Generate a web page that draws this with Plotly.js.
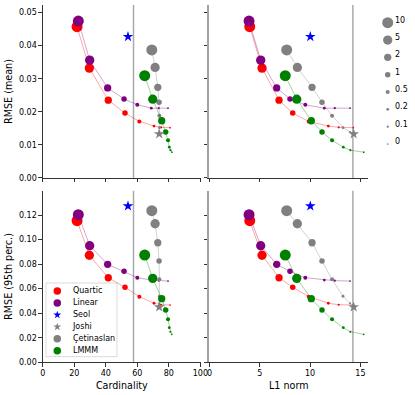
<!DOCTYPE html>
<html>
<head>
<meta charset="utf-8">
<script src="https://cdn.plot.ly/plotly-3.0.1.min.js"></script>
<style>
body { margin: 0; background: #fff; }
#chart { width: 415px; height: 395px; }
</style>
</head>
<body>
<div id="chart"></div>
<script>
// regularisation strengths, one per point on every path (largest first)
var lambdas = [10, 5, 2, 1, 0.5, 0.2, 0.1, 0];

var quarticCard = [21.8, 29.6, 41.6, 52.2, 61.3, 70.6, 75.1, 80.8];
var quarticL1   = [4.0, 5.22, 6.91, 8.27, 9.86, 11.81, 12.84, 14.29];
var quarticMean = [0.0457, 0.0332, 0.0235, 0.0196, 0.0171, 0.0157, 0.0153, 0.0152];
var quarticP95  = [0.1154, 0.0872, 0.0689, 0.0611, 0.0535, 0.0481, 0.0469, 0.0467];

var linearCard = [22.6, 29.8, 41.2, 51.6, 60.0, 68.9, 73.6, 79.5];
var linearL1   = [3.93, 5.09, 6.68, 8.0, 9.52, 11.41, 12.45, 13.97];
var linearMean = [0.0474, 0.0356, 0.0272, 0.0239, 0.0221, 0.0211, 0.0211, 0.0211];
var linearP95  = [0.1203, 0.0950, 0.0798, 0.0741, 0.0689, 0.0670, 0.0665, 0.0662];

var cetinCard = [69.2, 71.3, 73.0, 73.8, 74.0, 74.0, 74.0, 73.9];
var cetinL1   = [7.67, 8.73, 10.19, 11.18, 12.18, 13.27, 13.97, 14.33];
var cetinMean = [0.0387, 0.0334, 0.0274, 0.0229, 0.0188, 0.0152, 0.0139, 0.0133];
var cetinP95  = [0.1235, 0.1129, 0.0974, 0.0825, 0.0676, 0.0538, 0.0481, 0.0450];

var lmmmCard = [64.7, 69.8, 75.5, 78.0, 79.5, 80.3, 81.0, 81.9];
var lmmmL1   = [7.53, 8.67, 10.12, 11.18, 12.18, 13.3, 14.0, 15.33];
var lmmmMean = [0.0309, 0.0238, 0.0173, 0.0139, 0.0114, 0.0093, 0.0084, 0.0078];
var lmmmP95  = [0.0874, 0.0684, 0.0518, 0.0426, 0.0350, 0.0282, 0.0249, 0.0228];

var seolCard = [54.1], seolL1 = [10.02], seolMean = [0.0427], seolP95 = [0.1273];
var joshiCard = [73.9], joshiL1 = [14.33], joshiMean = [0.0133], joshiP95 = [0.0450];

// reference lines
var refCard = 57.6;
var refL1 = 14.25;

var legendNames = ["Quartic", "Linear", "Seol", "Joshi", "Çetinaslan", "LMMM"];
var sizeLabels = lambdas.map(String);

var FONT = "DejaVu Sans";

var panels = [
    {xa: "x",  ya: "y",  xKey: "card", yKey: "mean"},
    {xa: "x2", ya: "y2", xKey: "l1",   yKey: "mean"},
    {xa: "x3", ya: "y3", xKey: "card", yKey: "p95"},
    {xa: "x4", ya: "y4", xKey: "l1",   yKey: "p95"}
];

var paths = [
    {card: quarticCard, l1: quarticL1, mean: quarticMean, p95: quarticP95, color: "#ff0000", line: "rgba(255,0,0,0.45)"},
    {card: linearCard,  l1: linearL1,  mean: linearMean,  p95: linearP95,  color: "#800080", line: "rgba(128,0,128,0.45)"},
    {card: cetinCard,   l1: cetinL1,   mean: cetinMean,   p95: cetinP95,   color: "#808080", line: "rgba(128,128,128,0.45)"},
    {card: lmmmCard,    l1: lmmmL1,    mean: lmmmMean,    p95: lmmmP95,    color: "#008000", line: "rgba(0,128,0,0.45)"}
];

var stars = [
    {card: seolCard,  l1: seolL1,  mean: seolMean,  p95: seolP95,  color: "#0000ff"},
    {card: joshiCard, l1: joshiL1, mean: joshiMean, p95: joshiP95, color: "#808080"}
];

function markerSize(lambda){
    let sizes = {10: 11, 5: 9.3, 2: 7.3, 1: 5.5, 0.5: 4, 0.2: 2.8, 0.1: 2.2, 0: 1.7};
    return sizes[lambda];
}

function getLineTrace(xs, ys, xa, ya, color){
    return {
        x: xs, y: ys, xaxis: xa, yaxis: ya,
        type: "scatter", mode: "lines",
        line: {color: color, width: 0.8},
        hoverinfo: "skip", showlegend: false
    };
}

function getMarkerTrace(xs, ys, xa, ya, color, size, symbol){
    return {
        x: xs, y: ys, xaxis: xa, yaxis: ya,
        type: "scatter", mode: "markers",
        marker: {color: color, size: size, symbol: symbol, opacity: 1, line: {width: 0}},
        hoverinfo: "skip", showlegend: false
    };
}

var traces = [];
for (let p = 0; p < panels.length; p++){
    let pn = panels[p];
    for (let i = 0; i < paths.length; i++){
        let s = paths[i];
        traces.push(getLineTrace(s[pn.xKey], s[pn.yKey], pn.xa, pn.ya, s.line));
        traces.push(getMarkerTrace(s[pn.xKey], s[pn.yKey], pn.xa, pn.ya, s.color, lambdas.map(markerSize), "circle"));
    }
    for (let i = 0; i < stars.length; i++){
        let s = stars[i];
        traces.push(getMarkerTrace(s[pn.xKey], s[pn.yKey], pn.xa, pn.ya, s.color, 8, "star"));
    }
}

// method legend (bottom-left box)
var legendIdx = legendNames.map((n, i) => i);
traces.push({
    x: legendNames.map(() => 11.3), y: legendIdx, xaxis: "x5", yaxis: "y5",
    type: "scatter", mode: "markers", hoverinfo: "skip", showlegend: false,
    marker: {
        color: ["#ff0000", "#800080", "#0000ff", "#808080", "#808080", "#008000"],
        symbol: ["circle", "circle", "star", "star", "circle", "circle"],
        size: [7.5, 7.5, 6, 6, 7.5, 7.5],
        opacity: 1, line: {width: 0}
    }
});
traces.push({
    x: legendNames.map(() => 27), y: legendIdx, xaxis: "x5", yaxis: "y5",
    type: "scatter", mode: "text", text: legendNames, textposition: "middle right",
    textfont: {family: FONT, size: 8, color: "#000"},
    hoverinfo: "skip", showlegend: false
});

// marker size legend (right)
var sizeIdx = lambdas.map((l, i) => i);
traces.push({
    x: lambdas.map(() => 7.7), y: sizeIdx, xaxis: "x6", yaxis: "y6",
    type: "scatter", mode: "markers", hoverinfo: "skip", showlegend: false,
    marker: {color: "#808080", size: lambdas.map(markerSize), opacity: 1, line: {width: 0}}
});

var sizeAnnotations = sizeLabels.map(function(t, i){
    return {
        xref: "x6", yref: "y6", x: 13.3, y: i, text: t,
        xanchor: "left", yanchor: "middle", yshift: 2.5, showarrow: false,
        font: {family: FONT, size: 8, color: "#000"}
    };
});

function getXAxis(domain, range, tickvals, anchor, title, labels){
    return {
        domain: domain, range: range, anchor: anchor,
        tickmode: "array", tickvals: tickvals,
        showticklabels: labels, ticks: "outside", ticklen: 3.5, tickwidth: 0.8, tickcolor: "#000",
        showline: true, linecolor: "#000", linewidth: 0.8,
        showgrid: false, zeroline: false,
        tickfont: {family: FONT, size: 8, color: "#000"},
        title: {text: title, standoff: 4, font: {family: FONT, size: 9.6, color: "#000"}}
    };
}

function getYAxis(domain, range, dtick, anchor, title, labels, lineColor, lineWidth){
    return {
        domain: domain, range: range, anchor: anchor,
        tick0: 0, dtick: dtick, tickformat: ".2f",
        showticklabels: labels, ticks: "outside", ticklen: 3.5, tickwidth: 0.8, tickcolor: "#000",
        showline: true, linecolor: lineColor, linewidth: lineWidth,
        showgrid: false, zeroline: false,
        tickfont: {family: FONT, size: 8, color: "#000"},
        title: {text: title, standoff: 4, font: {family: FONT, size: 9.6, color: "#000"}}
    };
}

var cardTicks = [0, 20, 40, 60, 80, 100];
var l1Ticks = [0, 5, 10, 15];
var leftDom = [0.1029, 0.4843], rightDom = [0.5048, 0.8867];
var topDom = [0.5494, 0.9873], botDom = [0.0828, 0.5172];
var cardRange = [0, 100.4], l1Range = [0, 15.75];
var meanRange = [0, 0.05226], p95Range = [0, 0.1398];

function getRefLine(xref, yref, value){
    return {
        type: "line", xref: xref, yref: yref + " domain",
        x0: value, x1: value, y0: 0, y1: 1,
        line: {color: "#aaaaaa", width: 1.5}, layer: "below"
    };
}

var layout = {
    width: 415, height: 395,
    margin: {l: 0, r: 0, t: 0, b: 0},
    paper_bgcolor: "#fff", plot_bgcolor: "rgba(0,0,0,0)",
    showlegend: false,
    font: {family: FONT, size: 8, color: "#000"},
    xaxis:  getXAxis(leftDom,  cardRange, cardTicks, "y",  "", false),
    xaxis2: getXAxis(rightDom, l1Range,   l1Ticks,   "y2", "", false),
    xaxis3: getXAxis(leftDom,  cardRange, cardTicks, "y3", "Cardinality", true),
    xaxis4: getXAxis(rightDom, l1Range,   l1Ticks,   "y4", "L1 norm", true),
    yaxis:  getYAxis(topDom, meanRange, 0.01, "x",  "RMSE (mean)", true, "#000", 0.8),
    yaxis2: getYAxis(topDom, meanRange, 0.01, "x2", "", false, "#a0a0a0", 2),
    yaxis3: getYAxis(botDom, p95Range,  0.02, "x3", "RMSE (95th perc.)", true, "#000", 0.8),
    yaxis4: getYAxis(botDom, p95Range,  0.02, "x4", "", false, "#a0a0a0", 2),
    xaxis5: {domain: [0.1108, 0.2819], range: [0, 71], visible: false, fixedrange: true},
    yaxis5: {domain: [0.0970, 0.2835], range: [5.5, -0.67], visible: false, fixedrange: true, anchor: "x5"},
    xaxis6: {domain: [0.9157, 0.9880], range: [0, 30], visible: false, fixedrange: true},
    yaxis6: {domain: [0.6203, 0.9620], range: [7.346, -0.444], visible: false, fixedrange: true, anchor: "x6"},
    shapes: [
        getRefLine("x", "y", refCard),
        getRefLine("x3", "y3", refCard),
        getRefLine("x2", "y2", refL1),
        getRefLine("x4", "y4", refL1),
        {
            type: "rect", xref: "x5 domain", yref: "y5 domain", x0: 0, x1: 1, y0: 0, y1: 1,
            line: {color: "#d0d0d0", width: 0.8}, fillcolor: "rgba(255,255,255,0.85)", layer: "below"
        }
    ],
    annotations: sizeAnnotations
};

Plotly.newPlot("chart", traces, layout, {staticPlot: true, displayModeBar: false});
</script>
</body>
</html>
